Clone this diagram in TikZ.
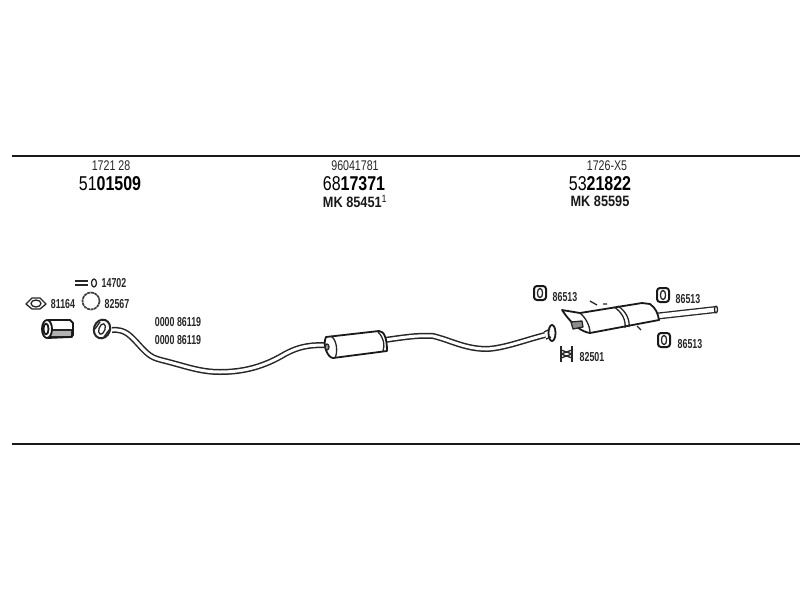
\documentclass[tikz,border=0pt]{standalone}
\usepackage{fontspec}
\setmainfont{Liberation Sans}
\begin{document}
\begin{tikzpicture}[x=1pt,y=-1pt,
  thick,
  main label/.style={font=\fontsize{14}{15}\selectfont,xscale=.76,text=black!85,inner sep=0pt},
  part label/.style={font=\fontsize{20}{20}\selectfont,xscale=.8,text=black,inner sep=0pt},
  mk label/.style={font=\fontsize{15}{15}\bfseries\selectfont,xscale=.85,text=black!90,inner sep=0pt},
  small label/.style={font=\fontsize{13}{13}\bfseries\selectfont,xscale=.68,text=black!85,inner sep=0pt},
  rule line/.style={line width=1.8pt,black!90},
  part line/.style={line width=1.3pt,black!85,line join=round},
  heavy line/.style={line width=1.8pt,black!90,line join=round},
  pipe/.style={line width=6pt,black!85,line join=round,postaction={draw,white,line width=3pt}},
  tail pipe/.style={line width=7pt,black!85,postaction={draw,white,line width=4.4pt}}]
  \useasboundingbox (0,0) rectangle (800,600);

  % rules
  \coordinate (rule1a) at (12,156);
  \coordinate (rule1b) at (800,156);
  \coordinate (rule2a) at (12,444);
  \coordinate (rule2b) at (800,444);
  \draw[rule line] (rule1a) -- (rule1b);
  \draw[rule line] (rule2a) -- (rule2b);

  % headings
  \node[main label] (num1) at (111,166) {1721 28};
  \node[part label] (part1) at (110,184) {51{\bfseries 01509}};
  \node[main label] (num2) at (355,166) {96041781};
  \node[part label] (part2) at (354,184) {68{\bfseries 17371}};
  \node[mk label] (mk2) at (355,201.5) {MK 85451\textsuperscript{\mdseries 1}};
  \node[main label] (num3) at (607,166) {1726-X5};
  \node[part label] (part3) at (600,184) {53{\bfseries 21822}};
  \node[mk label] (mk3) at (600,201.5) {MK 85595};

  % small labels
  \node[small label] (l14702) at (114,283) {14702};
  \node[small label] (l81164) at (63,304) {81164};
  \node[small label] (l82567) at (117,304) {82567};
  \node[small label] (l86119a) at (178,322) {0000 86119};
  \node[small label] (l86119b) at (178,340) {0000 86119};
  \node[small label] (l85513a) at (565,297) {86513};
  \node[small label] (l85513b) at (688,299) {86513};
  \node[small label] (l85513c) at (690,344) {86513};
  \node[small label] (l82501) at (592,357) {82501};

  % bolt and gaskets
  \draw[part line] (75,281) -- (88,281) (75,285) -- (88,285);
  \draw[part line] (94,283) ellipse (2.5 and 4);
  \draw[part line] (26,304) -- (32,298) -- (40,298) -- (46,304) -- (40,309) -- (32,309) -- cycle;
  \draw[part line] (36,303.5) ellipse (5 and 3.5);
  \draw[line width=1.7pt,black!75,dash pattern=on 3pt off .6pt] (91,301) circle (8.5);

  % sleeve
  \draw[part line,fill=black!30] (48,330) rectangle (72,337);
  \draw[heavy line] (48,320) -- (70,320) -- (73,323) -- (73,335) -- (71,337) -- (48,338);
  \draw[heavy line,fill=white] (47,329) ellipse (5 and 9);
  \draw[heavy line] (46,329) ellipse (2.5 and 5.5);

  % front pipe
  \draw[pipe] (112,330) .. controls (125,329) and (130,335) .. (140,346)
    .. controls (150,357) and (153,358) .. (165,361)
    .. controls (185,366) and (200,372) .. (220,372)
    .. controls (245,372) and (265,366) .. (285,354)
    .. controls (298,347) and (308,345) .. (324,345);
  \draw[line width=2pt,black!85,fill=white,rotate around={-20:(102,329)}] (102,329) ellipse (8 and 9.5);
  \draw[part line,rotate around={-20:(102,329)}] (102,329) ellipse (3 and 5.5);
  \draw[part line] (95,329) -- (100,322) (104,337) -- (109,330);

  % centre muffler
  \draw[pipe] (385,340) .. controls (405,337) and (420,335) .. (433,336)
    .. controls (450,340) and (465,349) .. (487,349)
    .. controls (505,348) and (525,340) .. (545,335);
  \draw[heavy line,fill=white] (326,337) -- (379,331)
    .. controls (384,331) and (387,338) .. (387,351) -- (333,358)
    .. controls (328,358) and (322,345) .. (326,337) -- cycle;
  \draw[part line] (331,336) .. controls (337,340) and (338,352) .. (335,358);
  \draw[part line] (378,332) .. controls (384,338) and (385,345) .. (383,351);
  \draw[part line,fill=black!40] (327,347) ellipse (2 and 3);
  \draw[heavy line,fill=white] (552,333) ellipse (3.5 and 8);
  \draw[part line] (544,332) -- (550,329) (546,339) -- (551,337);

  % clamp
  \draw[part line] (561,346) -- (561,362) (572,346) -- (572,362);
  \draw[part line] (561,350) -- (572,354) -- (561,358) (572,350) -- (561,354) -- (572,358);

  % rear muffler
  \draw[tail pipe] (658,316) -- (716,309.5);
  \draw[part line,fill=white] (716,309.5) ellipse (1.5 and 3.5);
  \draw[heavy line,fill=white] (562,310) -- (580,313) -- (642,303) -- (650,304)
    .. controls (656,308) and (658,314) .. (659,320) -- (590,333)
    .. controls (582,332) and (572,325) .. (562,310) -- cycle;
  \draw[part line] (580,313) .. controls (586,318) and (590,326) .. (590,333);
  \draw[part line] (614,307) .. controls (622,312) and (626,320) .. (625,328);
  \draw[part line] (618,306) .. controls (626,311) and (630,320) .. (629,327);
  \draw[part line,fill=black!45] (571,322) -- (582,321) -- (583,327) -- (573,329) -- cycle;
  \draw[part line] (590,301) -- (597,305) (603,304) -- (607,304);
  \draw[part line] (637,326) -- (641,330);

  % rubber mounts
  \foreach \mx/\my/\mname in {540/293/mounta,663/295/mountb,664/340/mountc}{
    \draw[line width=2pt,black!90,rounded corners=3pt] (\mx-6,\my-7) rectangle (\mx+6,\my+7);
    \draw[part line] (\mx,\my) ellipse (2.6 and 4.6);
  }
\end{tikzpicture}
\end{document}
